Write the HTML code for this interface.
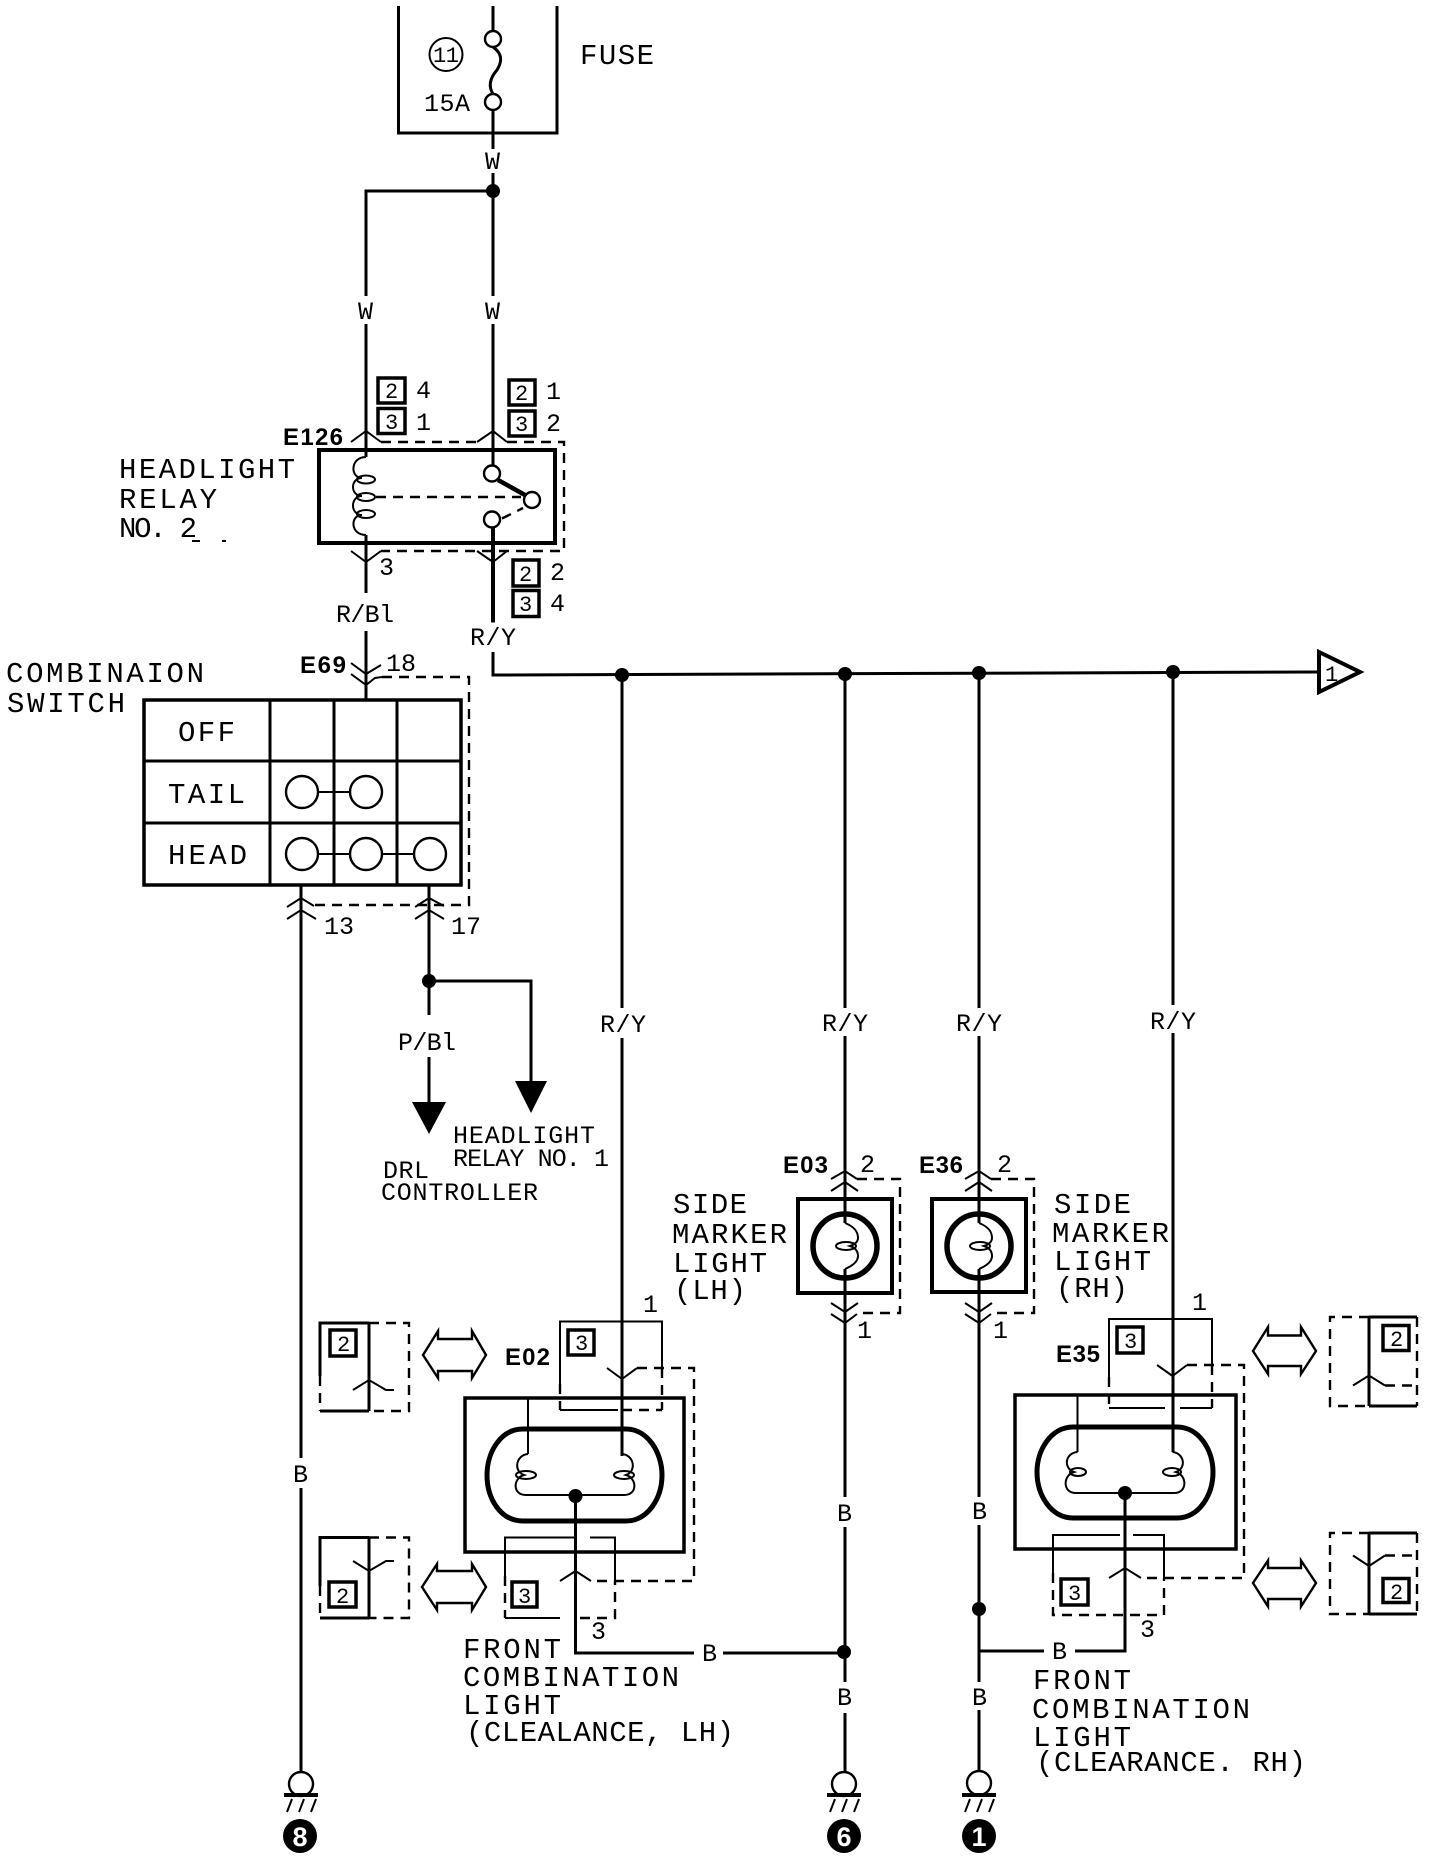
<!DOCTYPE html>
<html><head><meta charset="utf-8"><style>
html,body{margin:0;padding:0;background:#fff}
svg{display:block}
text{font-family:"Liberation Mono","DejaVu Sans Mono",monospace;fill:#000}
.l{font-size:29px}
.m{font-size:25px}
.s{font-size:22px}
.b{font-family:"Liberation Sans",sans-serif;font-weight:bold;font-size:24px}
.g{font-family:"Liberation Sans",sans-serif;font-weight:bold;font-size:27px;fill:#fff}
.w{fill:none;stroke:#000;stroke-width:3}
.t{fill:none;stroke:#000;stroke-width:2}
.k{fill:none;stroke:#000;stroke-width:5}
.d{fill:none;stroke:#000;stroke-width:2.4;stroke-dasharray:10 7}
.q{fill:#fff;stroke:#000;stroke-width:3.5}
.f{fill:#fff;stroke:#000;stroke-width:2.4}
</style></head><body>
<svg width="1456" height="1872" viewBox="0 0 1456 1872" xmlns="http://www.w3.org/2000/svg">
<rect width="1456" height="1872" fill="#fff"/>

<!-- Fuse -->
<path class="w" d="M398.500 6V133H557V6"/>
<path class="w" d="M493 6V31M493 110V149M493 173V296M493 324V465"/>
<path class="w" d="M493 47C503 54 502 62 497 70C490 78 488 86 493 94"/>
<circle class="f" cx="493" cy="39" r="8"/><circle class="f" cx="493" cy="102" r="8"/>
<circle class="t" cx="446" cy="54.500" r="16.500"/>
<text class="s" x="433" y="62" textLength="26">11</text>
<text class="m" x="424" y="111" textLength="46">15A</text>
<text class="l" x="580" y="64" textLength="74">FUSE</text>
<text class="m" x="485" y="169" textLength="16">W</text>
<circle cx="493" cy="191" r="7"/>
<path class="w" d="M493 191H366V296M366 324V457"/>
<text class="m" x="358" y="319" textLength="16">W</text>
<text class="m" x="485" y="319" textLength="16">W</text>

<!-- Relay tags -->
<rect class="q" x="378" y="378" width="27" height="25"/><text class="s" x="385" y="398">2</text>
<rect class="q" x="378" y="408.500" width="27" height="25"/><text class="s" x="385" y="429">3</text>
<rect class="q" x="509" y="380" width="26" height="25"/><text class="s" x="515" y="400">2</text>
<rect class="q" x="509" y="411" width="26" height="25"/><text class="s" x="515" y="431">3</text>
<text class="m" x="416" y="398">4</text><text class="m" x="416" y="430">1</text>
<text class="m" x="546" y="399">1</text><text class="m" x="546" y="431">2</text>
<text class="b" x="283" y="445" textLength="60">E126</text>

<!-- Relay -->
<rect x="319" y="450" width="236" height="93" fill="none" stroke="#000" stroke-width="4"/>
<path class="t" d="M351 442L366 431L381 442M477 442L493 431L507 442"/>
<path class="d" d="M381 442H477M507 442H564V551H381"/>
<path class="t" d="M366 457C350 457 350 478 362 478C350 478 350 496 362 496C350 496 350 515 362 515C350 515 350 535 366 535"/>
<ellipse class="t" cx="366" cy="479.500" rx="9" ry="4"/>
<ellipse class="t" cx="366" cy="497" rx="9" ry="4"/>
<ellipse class="t" cx="366" cy="514" rx="9" ry="4"/>
<path class="d" d="M376 497H521M502 518.500L523 508"/>
<path fill="none" stroke="#000" stroke-width="4.500" d="M498 480L525 495"/>
<circle class="f" cx="492" cy="473.500" r="8"/><circle class="f" cx="532" cy="500" r="8"/><circle class="f" cx="492" cy="519.500" r="8"/>
<path class="w" d="M366 535V593"/>
<path fill="none" stroke="#000" stroke-width="4" d="M493 528V622.500"/>
<path class="t" d="M351 551L366 562L381 551M477 551L493 562L507 551"/>
<text class="m" x="379" y="575">3</text>
<rect class="q" x="513" y="560" width="26" height="26"/><text class="s" x="519" y="581">2</text>
<rect class="q" x="513" y="590.500" width="26" height="26"/><text class="s" x="519" y="611">3</text>
<text class="m" x="550" y="580">2</text><text class="m" x="550" y="611">4</text>
<text class="l" x="119" y="478" textLength="176">HEADLIGHT</text>
<text class="l" x="119" y="508" textLength="98">RELAY</text>
<text class="l" x="119" y="537" textLength="78">NO. 2</text>
<path fill="none" stroke="#000" stroke-width="2" d="M192 541H200M222 541H226"/>
<text class="m" x="336" y="622" textLength="58">R/Bl</text>

<!-- Bus -->
<text class="m" x="470" y="645" textLength="46">R/Y</text>
<path class="w" d="M493 652V675L1319 672"/>
<circle cx="622" cy="675" r="7"/><circle cx="845" cy="674" r="7"/><circle cx="979" cy="673" r="7"/><circle cx="1173" cy="672" r="7"/>
<path fill="#fff" stroke="#000" stroke-width="4" d="M1319 652L1360 672L1319 692Z"/>
<text class="s" x="1325" y="681">1</text>

<!-- Combination switch -->
<text class="l" x="6" y="682" textLength="198">COMBINAION</text>
<text class="l" x="7" y="712" textLength="118">SWITCH</text>
<text class="b" x="300" y="673" textLength="46">E69</text>
<text class="m" x="386" y="671" textLength="30">18</text>
<path class="w" d="M366 631V700"/>
<path class="t" d="M351 663L366 674L381 665M351 674L366 685L375 678L382 677"/>
<path class="d" d="M382 677H469V905H314"/>
<rect x="144" y="700" width="317" height="185" fill="none" stroke="#000" stroke-width="3.500"/>
<path class="w" d="M270 700V885M334 700V885M397 700V885M144 761H461M144 823H461"/>
<path class="t" d="M302 792H366M302 854H430"/>
<circle class="f" cx="302" cy="792" r="16"/><circle class="f" cx="366" cy="792" r="16"/>
<circle class="f" cx="302" cy="854" r="16"/><circle class="f" cx="366" cy="854" r="16"/><circle class="f" cx="430" cy="854" r="16"/>
<text class="l" x="178" y="741" textLength="57">OFF</text>
<text class="l" x="168" y="803" textLength="77">TAIL</text>
<text class="l" x="168" y="864" textLength="79">HEAD</text>
<path class="w" d="M301 885V1458M301 1488V1775"/>
<path class="w" d="M429 885V1015M429 1057V1105"/>
<path class="t" d="M287 907L301 898L314 906M287 919L301 910L316 919M415 907L429 898L444 906M415 919L429 910L444 919"/>
<text class="m" x="324" y="934" textLength="30">13</text>
<text class="m" x="451" y="934" textLength="30">17</text>
<circle cx="429" cy="981" r="7"/>
<path class="w" d="M429 981H531V1085"/>
<path d="M515 1081H547L531 1113Z"/>
<path d="M412 1102H446L429 1134Z"/>
<text class="m" x="398" y="1050" textLength="58">P/Bl</text>
<text class="m" x="453" y="1143" textLength="142">HEADLIGHT</text>
<text class="m" x="453" y="1166" textLength="156">RELAY NO. 1</text>
<text class="m" x="383" y="1178" textLength="46">DRL</text>
<text class="m" x="381" y="1200" textLength="157">CONTROLLER</text>

<!-- R/Y drops -->
<path class="w" d="M622 675V1008M622 1038V1456M845 675V1008M845 1036V1223M845 1269V1497M845 1527V1682M845 1713V1773M979 675V1008M979 1036V1223M979 1269V1497M979 1525V1682M979 1710V1772M1173 672V1005M1173 1033V1452"/>
<text class="m" x="600" y="1032" textLength="46">R/Y</text>
<text class="m" x="822" y="1031" textLength="46">R/Y</text>
<text class="m" x="956" y="1031" textLength="46">R/Y</text>
<text class="m" x="1150" y="1029" textLength="46">R/Y</text>

<!-- Side markers -->
<text class="b" x="783" y="1173" textLength="45">E03</text>
<text class="b" x="919" y="1173" textLength="44">E36</text>
<text class="m" x="860" y="1172">2</text><text class="m" x="997" y="1172">2</text>
<text class="m" x="857" y="1338">1</text><text class="m" x="993" y="1338">1</text>
<path class="t" d="M831 1179L845 1171L857 1179M831 1191L845 1182L858 1191M831 1303L845 1312L858 1303M831 1314L845 1323L857 1314"/>
<path class="t" d="M965 1179L979 1171L991 1179M965 1191L979 1182L992 1191M965 1303L979 1312L992 1303M965 1314L979 1323L991 1314"/>
<path class="d" d="M857 1179H900V1313H857M991 1179H1034V1313H991"/>
<rect x="798" y="1199" width="94" height="94" fill="none" stroke="#000" stroke-width="4"/>
<rect x="932" y="1199" width="94" height="93" fill="none" stroke="#000" stroke-width="4"/>
<ellipse cx="845" cy="1246" rx="32" ry="32" fill="none" stroke="#000" stroke-width="5.500"/>
<ellipse cx="979" cy="1246" rx="32" ry="32" fill="none" stroke="#000" stroke-width="5.500"/>
<path class="t" d="M845 1223C855 1227 858 1232 858 1238C858 1242 854 1245 850 1246C856 1248 858 1252 858 1256C858 1262 852 1266 845 1269"/>
<path class="t" d="M979 1223C989 1227 992 1232 992 1238C992 1242 988 1245 984 1246C990 1248 992 1252 992 1256C992 1262 986 1266 979 1269"/>
<ellipse class="t" cx="846" cy="1246" rx="10" ry="4"/><ellipse class="t" cx="980" cy="1246" rx="10" ry="4"/>
<text class="l" x="673" y="1213" textLength="74">SIDE</text>
<text class="l" x="672" y="1243" textLength="115">MARKER</text>
<text class="l" x="673" y="1272" textLength="94">LIGHT</text>
<text class="l" x="674" y="1299" textLength="72">(LH)</text>
<text class="l" x="1054" y="1213" textLength="77">SIDE</text>
<text class="l" x="1052" y="1242" textLength="117">MARKER</text>
<text class="l" x="1054" y="1270" textLength="97">LIGHT</text>
<text class="l" x="1056" y="1297" textLength="72">(RH)</text>

<!-- Left alt connectors -->
<path class="w" d="M320 1376V1323H369M320 1411H369M369 1323V1411"/>
<path class="d" d="M320 1376V1411M369 1323H409V1411H369"/>
<path class="t" d="M353 1390L369 1380L386 1390L394 1390"/>
<rect class="q" x="330" y="1330" width="26" height="26"/><text class="s" x="337" y="1351">2</text>
<path class="w" d="M320 1586V1537.500H369M320 1618H369M369 1537.500V1618"/>
<path class="d" d="M320 1586V1618M369 1537.500H409V1618H369"/>
<path class="t" d="M353 1561L369 1571L386 1561L394 1561"/>
<rect class="q" x="329" y="1582" width="27" height="25"/><text class="s" x="336" y="1603">2</text>
<path class="f" stroke-width="3" d="M423 1355L438 1331V1339H472V1331L486 1355L472 1378V1371H438V1378Z"/>
<path class="f" stroke-width="3" d="M422 1587L437 1564V1571H472V1564L486 1587L472 1610V1603H437V1610Z"/>

<!-- LH front combination -->
<text class="b" x="505" y="1365" textLength="45">E02</text>
<path class="t" d="M560 1384V1321.500H662V1368"/>
<path class="d" d="M560 1384V1410M662 1368V1410"/>
<path class="t" d="M560 1410H618"/>
<path class="d" d="M622 1410H662"/>
<rect class="q" x="568" y="1330" width="26" height="25"/><text class="s" x="575" y="1350">3</text>
<text class="m" x="643" y="1312">1</text>
<path class="t" d="M607 1368L622 1379L637 1368"/>
<path class="d" d="M637 1368H694V1581H591"/>
<rect x="465" y="1398" width="219" height="154" fill="none" stroke="#000" stroke-width="3.500"/>
<path class="k" stroke-width="5.500" d="M523 1429H626C648 1429 662 1453 662 1475C662 1498 648 1521 626 1521H523C500 1521 487 1498 487 1475C487 1453 500 1429 523 1429Z"/>
<path class="t" d="M528 1398V1454M622 1398V1454"/>
<path class="t" d="M528 1454C516 1455 513 1471 524 1475C513 1478 512 1495 526 1495H624C638 1495 637 1478 626 1475C637 1471 634 1455 622 1454"/>
<ellipse class="t" cx="526" cy="1475" rx="10" ry="4"/><ellipse class="t" cx="624" cy="1475" rx="10" ry="4"/>
<circle cx="575.500" cy="1496" r="7"/>
<path class="w" d="M575.500 1496V1653H694M723 1653H845"/>
<circle cx="844" cy="1652" r="7"/>
<path class="t" d="M505 1576V1537.500H575M590 1537.500H615V1581"/>
<path class="d" d="M505 1576V1618M580 1618H615V1581"/>
<path class="t" d="M505 1618H560"/>
<rect class="q" x="512" y="1582" width="25" height="25"/><text class="s" x="518" y="1603">3</text>
<path class="t" d="M560 1581L575.500 1571L591 1581"/>
<text class="m" x="591" y="1639">3</text>
<text class="m" x="702" y="1661">B</text>
<text class="l" x="463" y="1658" textLength="98">FRONT</text>
<text class="l" x="463" y="1686" textLength="216">COMBINATION</text>
<text class="l" x="463" y="1714" textLength="98">LIGHT</text>
<text class="l" x="466" y="1741" textLength="268">(CLEALANCE, LH)</text>

<!-- RH front combination -->
<text class="b" x="1056" y="1362" textLength="44">E35</text>
<path class="t" d="M1109 1377V1319H1212V1365"/>
<path class="d" d="M1109 1377V1408M1212 1365V1408"/>
<path class="t" d="M1109 1408H1165M1180 1408H1212"/>
<rect class="q" x="1117" y="1327" width="26" height="26"/><text class="s" x="1124" y="1348">3</text>
<text class="m" x="1192" y="1310">1</text>
<path class="t" d="M1157 1365L1172.500 1376L1187 1365"/>
<path class="d" d="M1187 1365H1244V1578H1141"/>
<rect x="1015" y="1395" width="221" height="154" fill="none" stroke="#000" stroke-width="3.500"/>
<path class="k" stroke-width="5.500" d="M1073 1427H1177C1199 1427 1213 1450 1213 1472C1213 1495 1199 1518 1177 1518H1073C1051 1518 1037 1495 1037 1472C1037 1450 1051 1427 1073 1427Z"/>
<path class="t" d="M1077.500 1395V1452M1172.500 1395V1452"/>
<path class="t" d="M1077.500 1452C1065 1453 1063 1468 1074 1472C1063 1475 1062 1493 1076 1493H1174C1188 1493 1187 1475 1176 1472C1187 1468 1184 1453 1172.500 1452"/>
<ellipse class="t" cx="1078" cy="1472" rx="8" ry="4"/><ellipse class="t" cx="1172" cy="1472" rx="9" ry="4"/>
<circle cx="1125" cy="1493" r="7"/>
<path class="w" d="M1125 1493V1651H1075M1044 1651H979"/>
<circle cx="979" cy="1609" r="7"/>
<path class="t" d="M1053 1573V1535H1120M1133 1535H1164V1578"/>
<path class="d" d="M1053 1573V1615H1164V1578"/>
<rect class="q" x="1061" y="1579" width="27" height="26"/><text class="s" x="1068" y="1600">3</text>
<path class="t" d="M1109 1578L1125 1568L1141 1578"/>
<text class="m" x="1140" y="1637">3</text>
<text class="m" x="1052" y="1659">B</text>
<text class="l" x="1033" y="1689" textLength="98">FRONT</text>
<text class="l" x="1032" y="1718" textLength="218">COMBINATION</text>
<text class="l" x="1033" y="1746" textLength="98">LIGHT</text>
<text class="l" x="1036" y="1771" textLength="270">(CLEARANCE. RH)</text>

<!-- Right alt connectors -->
<path class="f" stroke-width="3" d="M1253 1351L1268 1327V1335.500H1301V1327L1316 1351L1301 1374V1366H1268V1374Z"/>
<path class="f" stroke-width="3" d="M1253 1583L1268 1560.500V1568H1301V1560.500L1316 1583L1301 1606.500V1599H1268V1606.500Z"/>
<path class="w" d="M1369 1317V1406M1369 1317H1417M1369 1406H1417"/>
<path class="d" d="M1369 1317H1330V1406H1369M1417 1317V1406"/>
<path class="t" d="M1353 1385.500L1369 1375.500L1385 1385.500"/>
<path class="d" d="M1385 1385.500H1417"/>
<rect class="q" x="1383" y="1325.500" width="26" height="25"/><text class="s" x="1390" y="1346">2</text>
<path class="w" d="M1369 1533V1614M1369 1533H1417M1369 1614H1417"/>
<path class="d" d="M1369 1533H1330V1614H1369M1417 1533V1614"/>
<path class="t" d="M1353 1555.500L1369 1566L1385 1555.500"/>
<path class="d" d="M1385 1555.500H1417"/>
<rect class="q" x="1383" y="1578.500" width="26" height="24"/><text class="s" x="1390" y="1599">2</text>

<!-- B labels -->
<text class="m" x="293" y="1482">B</text>
<text class="m" x="837" y="1521">B</text>
<text class="m" x="837" y="1705">B</text>
<text class="m" x="972" y="1519">B</text>
<text class="m" x="972" y="1705">B</text>

<!-- Grounds -->
<g>
<circle class="f" cx="301" cy="1784" r="12"/>
<path fill="none" stroke="#000" stroke-width="4" d="M284 1795H318"/>
<path class="t" d="M292 1799L287 1812M304 1799L299 1812M316 1799L311 1812"/>
<circle cx="300" cy="1836" r="17"/>
<text class="g" x="300" y="1846" text-anchor="middle">8</text>
</g>
<g>
<circle class="f" cx="844" cy="1784" r="12"/>
<path fill="none" stroke="#000" stroke-width="4" d="M827 1795H861"/>
<path class="t" d="M835 1799L830 1812M847 1799L842 1812M859 1799L854 1812"/>
<circle cx="844" cy="1836" r="17"/>
<text class="g" x="844" y="1846" text-anchor="middle">6</text>
</g>
<g>
<circle class="f" cx="979" cy="1783" r="12"/>
<path fill="none" stroke="#000" stroke-width="4" d="M962 1795H996"/>
<path class="t" d="M970 1799L965 1812M982 1799L977 1812M994 1799L989 1812"/>
<circle cx="979" cy="1836" r="17"/>
<text class="g" x="979" y="1846" text-anchor="middle">1</text>
</g>
</svg>
</body></html>
